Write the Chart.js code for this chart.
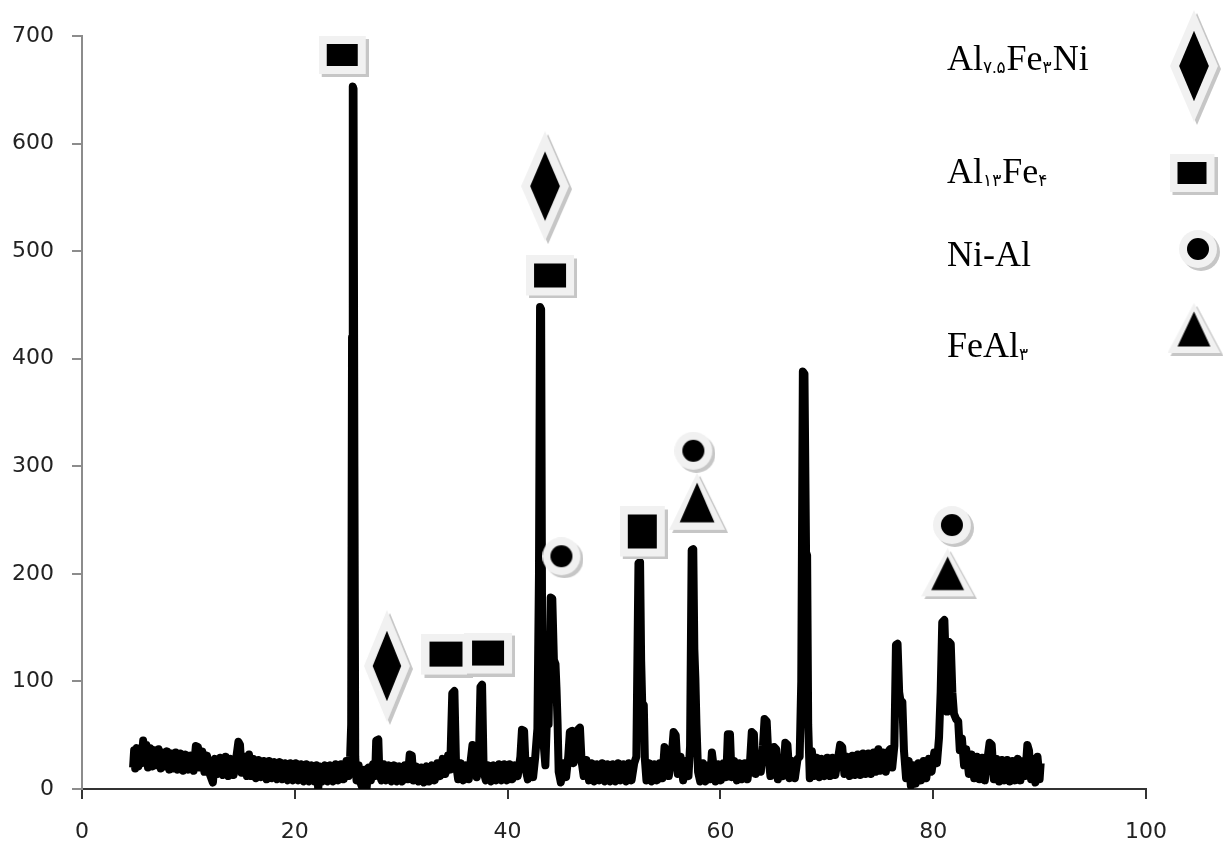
<!DOCTYPE html>
<html lang="en">
<head>
<meta charset="UTF-8">
<title>XRD pattern</title>
<style>
  html, body { margin: 0; padding: 0; background: #fff; }
  #wrap { width: 1223px; height: 846px; }
</style>
</head>
<body>
<div id="wrap"><canvas id="xrd" width="1223" height="846"></canvas></div>
<script src="https://cdn.jsdelivr.net/npm/chart.js"></script>
<script>
// scan: [2-theta, intensity]
const scan = [
  [4.8,20],[4.9,36],[5.0,19],[5.15,38],[5.3,21],[5.45,35],[5.6,24],[5.75,45],[5.9,26],[6.05,41],
  [6.2,20],[6.4,38],[6.6,21],[6.8,36],[7.0,22],[7.2,37],[7.4,19],[7.6,34],[7.8,21],[8.0,35],
  [8.2,18],[8.4,33],[8.6,19],[8.8,34],[9.0,18],[9.25,33],[9.5,17],[9.75,32],[10.0,18],[10.25,31],
  [10.5,17],[10.7,40],[10.9,39],[11.1,20],[11.3,35],[11.5,16],[11.75,31],[12.0,14],[12.3,6],[12.5,28],
  [12.75,14],[13.0,29],[13.25,13],[13.5,30],[13.75,12],[14.0,28],[14.25,13],[14.5,29],[14.7,44],[14.85,41],
  [15.0,15],[15.25,30],[15.5,12],[15.7,32],[15.9,12],[16.1,28],[16.35,10],[16.6,27],[16.85,11],[17.1,26],
  [17.35,9],[17.6,26],[17.85,10],[18.1,25],[18.35,9],[18.6,25],[18.85,9],[19.1,24],[19.35,8],[19.6,24],
  [19.85,8],[20.1,24],[20.35,8],[20.6,23],[20.85,7],[21.1,23],[21.35,7],[21.6,22],[21.85,7],[22.05,22],
  [22.2,0],[22.35,21],[22.6,7],[22.85,22],[23.1,7],[23.35,22],[23.6,7],[23.85,23],[24.1,8],[24.35,23],
  [24.6,9],[24.85,26],[25.05,12],[25.2,30],[25.3,60],[25.38,420],[25.45,653],[25.52,651],[25.6,300],[25.68,30],
  [25.8,8],[26.0,22],[26.2,5],[26.4,0],[26.55,18],[26.75,1],[26.95,20],[27.15,8],[27.35,23],[27.55,12],
  [27.65,45],[27.85,46],[27.95,14],[28.15,8],[28.35,23],[28.6,8],[28.85,22],[29.1,7],[29.35,22],[29.6,7],
  [29.85,21],[30.1,7],[30.35,22],[30.6,9],[30.8,32],[31.0,31],[31.15,8],[31.4,21],[31.65,7],[31.9,20],
  [32.15,6],[32.4,21],[32.65,7],[32.9,22],[33.15,8],[33.4,24],[33.65,12],[33.9,28],[34.15,14],[34.4,31],
  [34.6,18],[34.8,89],[35.0,91],[35.15,24],[35.35,9],[35.6,24],[35.85,8],[36.1,22],[36.35,9],[36.55,28],
  [36.7,41],[36.9,39],[37.1,11],[37.3,26],[37.45,95],[37.6,97],[37.75,16],[37.95,8],[38.2,22],[38.45,7],
  [38.7,22],[38.95,8],[39.2,23],[39.45,8],[39.7,23],[39.95,8],[40.2,23],[40.45,9],[40.7,22],[40.95,12],
  [41.2,30],[41.35,55],[41.55,54],[41.7,18],[41.9,9],[42.15,26],[42.4,11],[42.6,30],[42.8,56],[42.95,200],
  [43.05,448],[43.15,446],[43.25,120],[43.4,40],[43.55,22],[43.7,66],[43.85,60],[43.95,120],[44.05,178],[44.2,177],
  [44.35,120],[44.5,116],[44.6,92],[44.7,60],[44.8,16],[45.0,6],[45.25,24],[45.5,11],[45.7,30],[45.85,53],
  [46.05,54],[46.2,24],[46.45,33],[46.6,55],[46.8,57],[46.95,26],[47.15,12],[47.4,27],[47.65,8],[47.9,24],
  [48.15,7],[48.4,23],[48.65,8],[48.9,24],[49.15,7],[49.4,23],[49.65,7],[49.9,23],[50.15,7],[50.4,24],
  [50.65,8],[50.9,23],[51.15,7],[51.4,24],[51.65,8],[51.9,24],[52.1,30],[52.2,120],[52.3,210],[52.45,211],
  [52.55,120],[52.65,80],[52.8,78],[52.9,28],[53.05,8],[53.3,24],[53.55,7],[53.8,23],[54.05,8],[54.3,24],
  [54.55,10],[54.75,39],[54.95,34],[55.15,12],[55.4,28],[55.6,53],[55.8,50],[56.0,14],[56.25,30],[56.5,8],
  [56.75,26],[57.0,12],[57.15,40],[57.3,222],[57.45,223],[57.55,130],[57.65,102],[57.75,60],[57.9,16],[58.1,7],
  [58.35,24],[58.6,7],[58.85,22],[59.05,9],[59.2,34],[59.35,22],[59.55,7],[59.8,23],[60.05,8],[60.3,24],
  [60.55,11],[60.7,51],[60.9,51],[61.05,11],[61.3,26],[61.55,8],[61.8,24],[62.05,9],[62.3,24],[62.55,9],
  [62.8,28],[62.95,53],[63.15,51],[63.3,14],[63.55,28],[63.8,16],[64.0,40],[64.15,65],[64.35,63],[64.5,32],
  [64.7,12],[64.9,26],[65.05,39],[65.25,37],[65.4,9],[65.65,26],[65.9,12],[66.1,43],[66.3,41],[66.5,10],
  [66.75,26],[67.0,10],[67.25,28],[67.45,30],[67.6,100],[67.75,388],[67.9,386],[68.05,220],[68.15,217],[68.25,60],
  [68.4,10],[68.6,35],[68.8,12],[69.05,29],[69.3,11],[69.55,28],[69.8,12],[70.05,29],[70.3,12],[70.55,29],
  [70.8,13],[71.05,28],[71.25,41],[71.45,39],[71.65,14],[71.9,30],[72.15,12],[72.4,31],[72.65,13],[72.9,32],
  [73.15,13],[73.4,33],[73.65,14],[73.9,33],[74.15,14],[74.4,34],[74.6,16],[74.85,37],[75.05,17],[75.3,34],
  [75.55,16],[75.8,35],[75.95,37],[76.15,20],[76.35,40],[76.5,134],[76.65,135],[76.8,90],[76.95,80],[77.1,81],
  [77.25,36],[77.45,10],[77.7,26],[77.9,3],[78.1,22],[78.35,5],[78.6,24],[78.85,8],[79.1,26],[79.35,10],
  [79.6,28],[79.85,16],[80.1,34],[80.35,24],[80.55,48],[80.7,90],[80.85,155],[81.05,157],[81.2,110],[81.3,72],
  [81.45,137],[81.65,135],[81.8,90],[81.95,70],[82.15,65],[82.35,63],[82.5,36],[82.7,47],[82.9,22],[83.1,37],
  [83.35,14],[83.6,32],[83.85,10],[84.1,30],[84.35,9],[84.6,29],[84.85,8],[85.1,28],[85.3,43],[85.5,41],
  [85.7,9],[85.95,28],[86.2,7],[86.45,27],[86.7,8],[86.95,27],[87.2,7],[87.45,26],[87.7,8],[87.95,28],
  [88.2,8],[88.45,26],[88.65,12],[88.85,41],[89.0,36],[89.2,9],[89.4,28],[89.6,6],[89.8,30],[90.0,9],
  [90.1,24]
];

// phase markers placed over the peaks
const diamondPeaks  = [[28.8,113],[43.66,559]];            // Al7.5Fe3Ni
const squarePeaks   = [[24.6,681],[34.35,124],[38.3,125],[44.13,476],[52.8,238]]; // Al13Fe4
const circlePeaks   = [[45.2,215],[57.6,313],[81.9,244]]; // Ni-Al
const trianglePeaks = [[57.95,266],[81.5,200]];              // FeAl3

// key text: [text, isSubscript]
const phaseNames = [
  [['Al',0],['۷.۵',1],['Fe',0],['۳',1],['Ni',0]],
  [['Al',0],['۱۳',1],['Fe',0],['۴',1]],
  [['Ni-Al',0]],
  [['Fe',0],['Al',0],['۳',1]]
];

const xTicks = { min: 0, max: 100, step: 20 };
const yTicks = { min: 0, max: 700, step: 100 };

// marker glyphs: light halo, black core, grey drop shadow
function makeMarker(shape, w, h) {
  const sh = 3;
  const c = document.createElement('canvas');
  c.width = w + sh; c.height = h + sh;
  const g = c.getContext('2d');
  function outline(ox, oy) {
    g.beginPath();
    if (shape === 'square') {
      g.rect(ox, oy, w, h);
    } else if (shape === 'diamond') {
      g.moveTo(ox + w / 2, oy); g.lineTo(ox + w, oy + h / 2);
      g.lineTo(ox + w / 2, oy + h); g.lineTo(ox, oy + h / 2); g.closePath();
    } else if (shape === 'circle') {
      g.arc(ox + w / 2, oy + h / 2, w / 2, 0, Math.PI * 2);
    } else {
      g.moveTo(ox + w / 2, oy); g.lineTo(ox + w, oy + h); g.lineTo(ox, oy + h); g.closePath();
    }
  }
  outline(sh, sh); g.fillStyle = '#c6c6c6'; g.fill();
  outline(0, 0); g.fillStyle = '#f1f1f1'; g.fill();
  g.fillStyle = '#000';
  g.beginPath();
  if (shape === 'square') {
    g.rect(8, 8, w - 16, h - 16);
  } else if (shape === 'diamond') {
    const ix = w * 0.19, iy = h * 0.185;
    g.moveTo(w / 2, iy); g.lineTo(w - ix, h / 2); g.lineTo(w / 2, h - iy); g.lineTo(ix, h / 2); g.closePath();
  } else if (shape === 'circle') {
    g.arc(w / 2, h / 2, w * 0.29, 0, Math.PI * 2);
  } else {
    g.moveTo(w / 2, h * 0.17); g.lineTo(w * 0.81, h * 0.87); g.lineTo(w * 0.19, h * 0.87); g.closePath();
  }
  g.fill();
  return c;
}

const squareStyles = [
  makeMarker('square', 47, 38), makeMarker('square', 49, 41), makeMarker('square', 48, 41),
  makeMarker('square', 48, 40), makeMarker('square', 45, 50)
];
const diamondStyles = [makeMarker('diamond', 46, 112), makeMarker('diamond', 48, 110)];
const circleStyle = makeMarker('circle', 38, 38);
const triangleStyles = [makeMarker('triangle', 56, 57), makeMarker('triangle', 53, 48)];

const keyMarkers = [
  { img: makeMarker('diamond', 48, 112), cx: 1194, cy: 66 },
  { img: makeMarker('square', 45, 38), cx: 1192, cy: 173 },
  { img: makeMarker('circle', 38, 38), cx: 1198, cy: 249 },
  { img: makeMarker('triangle', 53, 50), cx: 1194, cy: 328 }
];
const keyRows = [70, 183, 266, 357];

const phaseKey = {
  id: 'phaseKey',
  afterDraw(chart) {
    const ctx = chart.ctx;
    ctx.save();
    ctx.fillStyle = '#000';
    ctx.textBaseline = 'alphabetic';
    phaseNames.forEach((parts, i) => {
      let x = 947;
      parts.forEach(([txt, sub]) => {
        ctx.font = sub ? '17px "Liberation Serif", "DejaVu Sans"' : '36px "Liberation Serif"';
        ctx.fillText(txt, x, sub ? keyRows[i] + 3 : keyRows[i]);
        x += ctx.measureText(txt).width + (sub ? 1 : 0);
      });
      const m = keyMarkers[i];
      ctx.drawImage(m.img, m.cx - (m.img.width - 3) / 2, m.cy - (m.img.height - 3) / 2);
    });
    ctx.restore();
  }
};

const toXY = arr => arr.map(([x, y]) => ({ x, y }));
const tickFont = { family: '"DejaVu Sans", Verdana, sans-serif', size: 22 };

new Chart(document.getElementById('xrd'), {
  type: 'scatter',
  data: {
    datasets: [
      { data: toXY(squarePeaks), pointStyle: squareStyles, pointRadius: 8 },
      { data: toXY(diamondPeaks), pointStyle: diamondStyles, pointRadius: 8 },
      { data: toXY(circlePeaks), pointStyle: circleStyle, pointRadius: 8 },
      { data: toXY(trianglePeaks), pointStyle: triangleStyles, pointRadius: 8 },
      {
        type: 'line', data: toXY(scan), order: 10,
        borderColor: '#000', borderWidth: 8, pointRadius: 0,
        tension: 0, borderJoinStyle: 'round', fill: false
      }
    ]
  },
  options: {
    responsive: false,
    animation: false,
    events: [],
    layout: { padding: { top: 36, right: 77, left: 0, bottom: 0 } },
    plugins: { legend: { display: false }, tooltip: { enabled: false } },
    scales: {
      x: {
        type: 'linear', min: xTicks.min, max: xTicks.max,
        ticks: { stepSize: xTicks.step, font: tickFont, color: '#222', padding: 20 },
        grid: { drawOnChartArea: false, drawTicks: true, tickLength: 10, color: '#333', lineWidth: 2 },
        border: { color: '#333', width: 2 },
        afterFit(s) { s.height = 57; }
      },
      y: {
        min: yTicks.min, max: yTicks.max,
        ticks: { stepSize: yTicks.step, font: tickFont, color: '#222', padding: 18 },
        grid: { drawOnChartArea: false, drawTicks: true, tickLength: 10, color: '#8c8c8c', lineWidth: 2 },
        border: { color: '#8c8c8c', width: 2 },
        afterFit(s) { s.width = 82; }
      }
    }
  },
  plugins: [phaseKey]
});
</script>
</body>
</html>
